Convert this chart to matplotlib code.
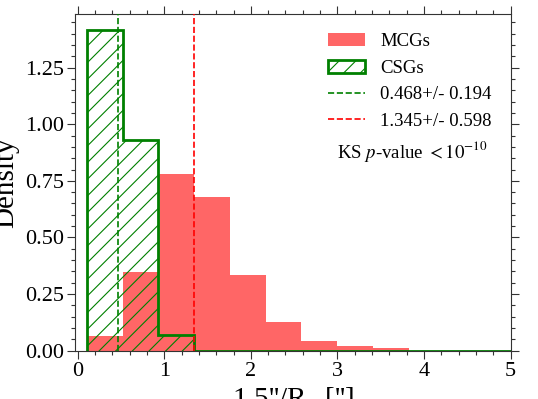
import matplotlib
matplotlib.use("Agg")
import matplotlib.pyplot as plt
from matplotlib.patches import Patch
from matplotlib.lines import Line2D
from matplotlib.ticker import MultipleLocator

plt.rcParams['font.family'] = ['Liberation Serif', 'DejaVu Serif']
plt.rcParams['mathtext.fontset'] = 'stix'
plt.rcParams['hatch.linewidth'] = 0.8

# shared bin edges (in arcsec units of 1.5''/R_e)
bin_edges = [0.108, 0.521, 0.933, 1.346, 1.759, 2.172, 2.584, 2.997,
             3.410, 3.822, 4.235, 4.648, 5.060]
# density values per bin
mcg_density = [0.065, 0.349, 0.779, 0.680, 0.333, 0.127, 0.043, 0.021,
               0.012, 0.0, 0.0, 0.0]
csg_density = [1.416, 0.929, 0.069, 0.0, 0.0, 0.0, 0.0, 0.0,
               0.0, 0.0, 0.0, 0.0]
csg_mean, csg_std = 0.468, 0.194
mcg_mean, mcg_std = 1.345, 0.598

bin_left = bin_edges[:-1]

fig = plt.figure(figsize=(5.38, 3.99), dpi=100)
ax = fig.add_axes([75/538, 1-350.5/399, (510.7-75)/538, (350.5-14.3)/399])

ax.hist(bin_left, bins=bin_edges, weights=mcg_density, histtype='bar',
        color='red', alpha=0.6, rwidth=1.0, zorder=1)
ax.hist(bin_left, bins=bin_edges, weights=csg_density, histtype='step',
        edgecolor='green', hatch='//', lw=2, fill=False, zorder=2)
ax.axvline(csg_mean, color='green', ls='--', lw=1.2, zorder=3)
ax.axvline(mcg_mean, color='red', ls='--', lw=1.2, zorder=3)

ax.set_xlim(-0.03, 5)
ax.set_ylim(0, 1.486)
ax.xaxis.set_major_locator(MultipleLocator(1))
ax.xaxis.set_minor_locator(MultipleLocator(0.2))
ax.yaxis.set_major_locator(MultipleLocator(0.25))
ax.yaxis.set_minor_locator(MultipleLocator(0.05))
ax.tick_params(which='both', direction='out', top=True, right=True,
               color='#333333', width=0.8, labelsize=16)
ax.tick_params(which='major', length=6)
ax.tick_params(which='minor', length=3)
ax.tick_params(axis='y', pad=1.5)
ax.tick_params(axis='x', pad=2)
for s in ax.spines.values():
    s.set_color('#333333')
    s.set_linewidth(0.8)

ax.set_ylabel('Density', fontsize=21)
ax.yaxis.set_label_coords(-0.128, 0.5)
ax.set_xlabel("1.5''/R$_{\\rm e}$ ['']", fontsize=21, labelpad=3)

ax.text(3.0, 0.85, r"KS $p$-value $<10^{-10}$", fontsize=13.5, va='baseline')

handles = [
    Patch(facecolor='red', alpha=0.6, label='MCGs'),
    Patch(facecolor='white', edgecolor='green', hatch='//', lw=2, label='CSGs'),
    Line2D([], [], color='green', ls='--', lw=1.2,
           label=f'{csg_mean:.3f}+/- {csg_std:.3f}'),
    Line2D([], [], color='red', ls='--', lw=1.2,
           label=f'{mcg_mean:.3f}+/- {mcg_std:.3f}'),
]
ax.legend(handles=handles, loc='upper right', frameon=False, fontsize=13.5,
          labelspacing=0.5, borderaxespad=0.6)

fig.savefig('out.png', dpi=100)
